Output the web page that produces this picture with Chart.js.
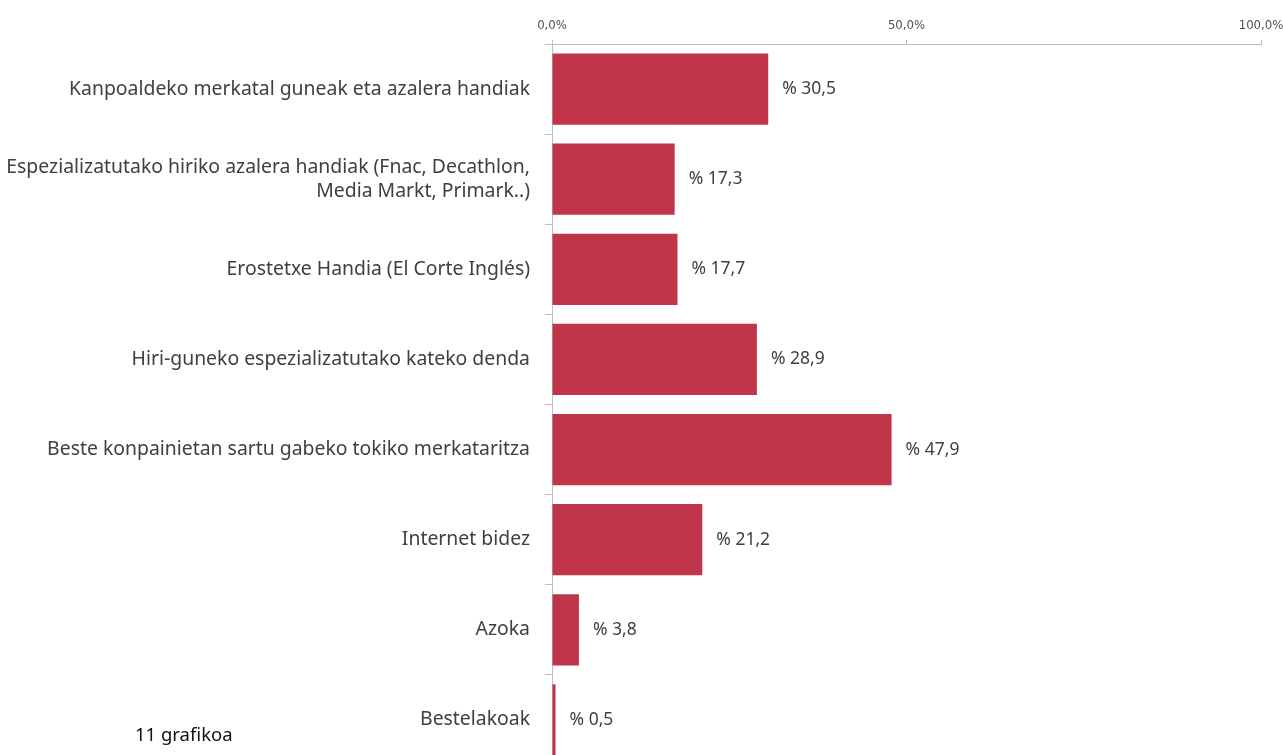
<!DOCTYPE html>
<html>
<head>
<meta charset="utf-8">
<script src="https://cdn.jsdelivr.net/npm/chart.js@4.4.1/dist/chart.umd.min.js"></script>
<style>
    html, body {
        margin: 0;
        padding: 0;
        width: 1283px;
        height: 755px;
        overflow: hidden;
        background: #ffffff;
    }
    #wrap {
        position: relative;
        width: 1283px;
        height: 755px;
    }
    #chart {
        position: absolute;
        left: 0;
        top: 0;
    }
    #caption {
        position: absolute;
        left: 135px;
        top: 721px;
        font-family: "Noto Sans", "Open Sans", sans-serif;
        font-size: 18.5px;
        color: #111111;
    }
</style>
</head>
<body>
<div id="wrap">
    <canvas id="chart" width="1283" height="770"></canvas>
    <div id="caption">11 grafikoa</div>
</div>
<script>
const categories = [
    'Kanpoaldeko merkatal guneak eta azalera handiak',
    ['Espezializatutako hiriko azalera handiak (Fnac, Decathlon,', 'Media Markt, Primark..)'],
    'Erostetxe Handia (El Corte Inglés)',
    'Hiri-guneko espezializatutako kateko denda',
    'Beste konpainietan sartu gabeko tokiko merkataritza',
    'Internet bidez',
    'Azoka',
    'Bestelakoak'
];
const percentages = [30.5, 17.3, 17.7, 28.9, 47.9, 21.2, 3.8, 0.5];
const xTicks = [0, 50, 100];

const barColor = '#C0354A';
const textColor = '#404040';
const axisColor = '#BFBFBF';

// etiketak barren ondoan: "% 30,5"
const valueLabels = {
    id: 'valueLabels',
    afterDatasetsDraw(chart) {
        const ctx = chart.ctx;
        const meta = chart.getDatasetMeta(0);
        ctx.save();
        ctx.font = '17.5px "Noto Sans", "Open Sans", sans-serif';
        ctx.fillStyle = textColor;
        ctx.textAlign = 'left';
        ctx.textBaseline = 'middle';
        meta.data.forEach((bar, i) => {
            const text = '% ' + percentages[i].toFixed(1).replace('.', ',');
            ctx.fillText(text, bar.x + 14, bar.y);
        });
        ctx.restore();
    }
};

new Chart(document.getElementById('chart'), {
    type: 'bar',
    data: {
        labels: categories,
        datasets: [{
            data: percentages,
            backgroundColor: barColor,
            borderWidth: 0,
            categoryPercentage: 1,
            barPercentage: 0.79
        }]
    },
    options: {
        indexAxis: 'y',
        responsive: false,
        animation: false,
        devicePixelRatio: 1,
        layout: {
            padding: {left: 0, right: 22, top: 0, bottom: 5}
        },
        plugins: {
            legend: {display: false},
            tooltip: {enabled: false}
        },
        scales: {
            x: {
                position: 'top',
                min: 0,
                max: 100,
                afterBuildTicks: scale => {
                    scale.ticks = xTicks.map(v => ({value: v}));
                },
                afterFit: scale => {
                    scale.height = 44;
                    scale.paddingLeft = 0;
                    scale.paddingRight = 0;
                },
                grid: {
                    drawOnChartArea: false,
                    drawTicks: true,
                    tickLength: 4,
                    color: axisColor
                },
                border: {display: true, color: axisColor},
                ticks: {
                    padding: 7,
                    color: '#505050',
                    font: {family: '"Liberation Sans Narrow", "DejaVu Sans Condensed", sans-serif', size: 13},
                    callback: v => v.toFixed(1).replace('.', ',') + '%'
                }
            },
            y: {
                afterFit: scale => {
                    scale.width = 552;
                    scale.paddingTop = 0;
                    scale.paddingBottom = 0;
                },
                grid: {
                    drawOnChartArea: false,
                    drawTicks: true,
                    tickLength: 7,
                    offset: true,
                    color: axisColor
                },
                border: {display: true, color: axisColor},
                ticks: {
                    padding: 15,
                    color: textColor,
                    autoSkip: false,
                    font: {family: '"Noto Sans", "Open Sans", sans-serif', size: 19.4, lineHeight: 1.24}
                }
            }
        }
    },
    plugins: [valueLabels]
});
</script>
</body>
</html>
